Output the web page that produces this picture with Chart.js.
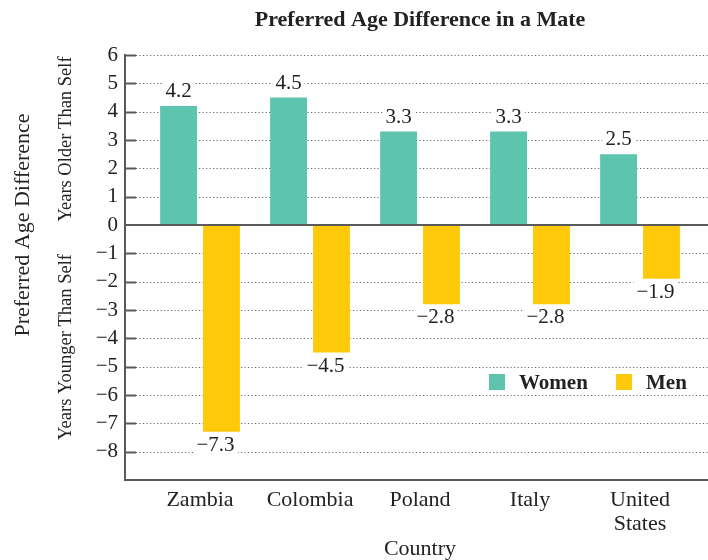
<!DOCTYPE html>
<html>
<head>
<meta charset="utf-8">
<script src="https://cdn.jsdelivr.net/npm/chart.js@4.4.1/dist/chart.umd.min.js"></script>
<style>
  body { margin: 0; background: #fff; }
  #wrap { width: 708px; height: 560px; }
</style>
</head>
<body>
<div id="wrap"><canvas id="chart" width="708" height="560"></canvas></div>
<script>
// data
const countries = ['Zambia', 'Colombia', 'Poland', 'Italy', ['United', 'States']];
const women = [4.2, 4.5, 3.3, 3.3, 2.5];
const men = [-7.3, -4.5, -2.8, -2.8, -1.9];
const yTicks = [6, 5, 4, 3, 2, 1, 0, -1, -2, -3, -4, -5, -6, -7, -8];

const TEAL = '#5dc4ae';
const GOLD = '#ffc90b';
const AXIS = '#5a5a5a';
const TEXT = '#222';
const SERIF = '"Liberation Serif", "Times New Roman", serif';

const fmt = v => (v < 0 ? '\u2212' + Math.abs(v) : String(v));

// dotted grid, inner tick marks, solid zero line
const gridPlugin = {
  id: 'gridPlugin',
  beforeDatasetsDraw(chart) {
    const { ctx, chartArea, scales: { y } } = chart;
    ctx.save();
    yTicks.forEach(v => {
      if (v === 0) return;
      const py = Math.round(y.getPixelForValue(v)) + 0.5;
      ctx.strokeStyle = '#666';
      ctx.lineWidth = 1;
      ctx.setLineDash([1.2, 2.3]);
      ctx.beginPath();
      ctx.moveTo(chartArea.left + 11, py);
      ctx.lineTo(chartArea.right, py);
      ctx.stroke();
      ctx.setLineDash([]);
      ctx.strokeStyle = AXIS;
      ctx.lineWidth = 2;
      ctx.beginPath();
      ctx.moveTo(chartArea.left, py);
      ctx.lineTo(chartArea.left + 11, py);
      ctx.stroke();
    });
    ctx.restore();
  },
  afterDatasetsDraw(chart) {
    const { ctx, chartArea, scales: { y } } = chart;
    const py = y.getPixelForValue(0);
    ctx.save();
    ctx.strokeStyle = AXIS;
    ctx.lineWidth = 2;
    ctx.beginPath();
    ctx.moveTo(chartArea.left, py);
    ctx.lineTo(chartArea.right, py);
    ctx.stroke();

    // value labels with white backing
    ctx.font = '21px ' + SERIF;
    chart.data.datasets.forEach((ds, di) => {
      chart.getDatasetMeta(di).data.forEach((bar, i) => {
        const v = ds.data[i].y;
        const s = fmt(v);
        const w = ctx.measureText(String(Math.abs(v))).width;
        const full = ctx.measureText(s).width;
        const right = bar.x + w / 2;
        const base = v >= 0 ? bar.y - 9 : bar.y + 19;
        ctx.fillStyle = '#fff';
        ctx.fillRect(right - full - 3, base - 16, full + 6, 20);
        ctx.fillStyle = TEXT;
        ctx.textAlign = 'right';
        ctx.textBaseline = 'alphabetic';
        ctx.fillText(s, right, base);
      });
    });
    ctx.restore();
  },
  afterDraw(chart) {
    const { ctx } = chart;
    ctx.save();
    ctx.fillStyle = TEXT;
    ctx.textBaseline = 'alphabetic';
    ctx.textAlign = 'center';

    ctx.font = 'bold 22px ' + SERIF;
    ctx.fillText('Preferred Age Difference in a Mate', 420, 26);

    ctx.font = '22px ' + SERIF;
    ctx.fillText('Country', 420, 555);

    const vtext = (t, x, y, size) => {
      ctx.save();
      ctx.translate(x, y);
      ctx.rotate(-Math.PI / 2);
      ctx.font = size + 'px ' + SERIF;
      ctx.fillText(t, 0, 0);
      ctx.restore();
    };
    vtext('Preferred Age Difference', 29, 225, 22);
    vtext('Years Older Than Self', 71, 139, 18.5);
    vtext('Years Younger Than Self', 71, 347, 18.5);

    // legend
    ctx.font = 'bold 21px ' + SERIF;
    ctx.textAlign = 'left';
    chart.data.datasets.forEach((ds, i) => {
      const x0 = i === 0 ? 489 : 616;
      ctx.fillStyle = ds.backgroundColor;
      ctx.fillRect(x0, 374, 16, 16);
      ctx.fillStyle = TEXT;
      ctx.fillText(ds.label, x0 + 30, 389);
    });
    ctx.restore();
  }
};

new Chart(document.getElementById('chart'), {
  type: 'bar',
  data: {
    datasets: [
      { label: 'Women', data: women.map((v, i) => ({ x: i, y: v })), backgroundColor: TEAL },
      { label: 'Men', data: men.map((v, i) => ({ x: i, y: v })), backgroundColor: GOLD }
    ]
  },
  options: {
    responsive: false,
    animation: false,
    categoryPercentage: 0.78,
    barPercentage: 0.86,
    layout: { padding: { top: 55, right: 0, left: 0, bottom: 0 } },
    plugins: { legend: { display: false }, tooltip: { enabled: false } },
    scales: {
      x: {
        type: 'linear',
        offset: false,
        min: -0.682,
        max: 4.618,
        grid: { display: false, drawTicks: false, offset: false },
        border: { color: AXIS, width: 2 },
        afterBuildTicks: scale => { scale.ticks = countries.map((c, i) => ({ value: i })); },
        afterFit: scale => { scale.height = 80; },
        ticks: {
          padding: 8,
          color: TEXT,
          font: { family: SERIF, size: 22, lineHeight: 1.1 },
          maxRotation: 0,
          autoSkip: false,
          callback: v => countries[v]
        }
      },
      y: {
        min: -9,
        max: 6,
        grid: { display: false, drawTicks: false },
        border: { color: AXIS, width: 2 },
        afterFit: scale => { scale.width = 125; },
        ticks: {
          stepSize: 1,
          padding: 7,
          color: TEXT,
          font: { family: SERIF, size: 21 },
          callback: v => (v === -9 ? '' : fmt(v))
        }
      }
    }
  },
  plugins: [gridPlugin]
});
</script>
</body>
</html>
